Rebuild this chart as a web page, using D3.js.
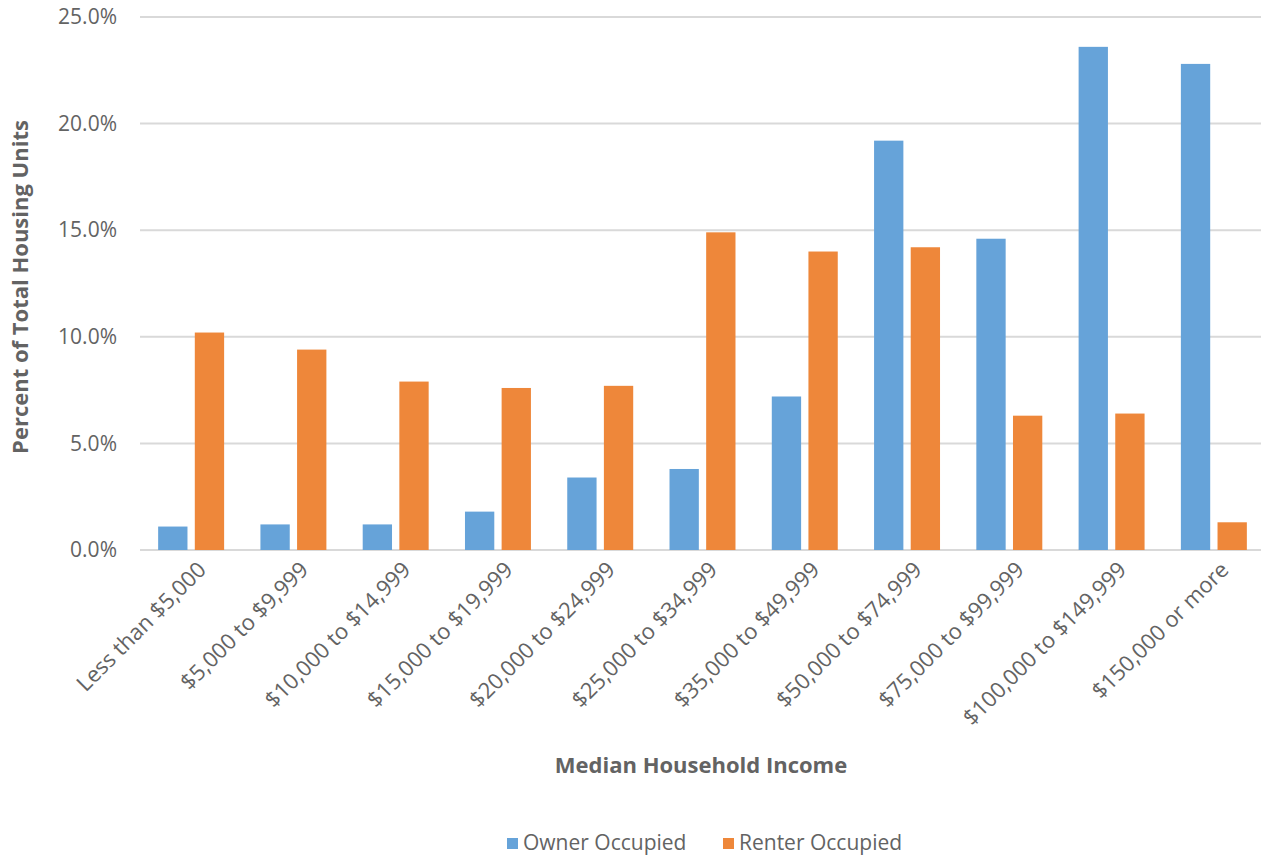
<!DOCTYPE html>
<html>
<head>
<meta charset="utf-8">
<script src="https://cdnjs.cloudflare.com/ajax/libs/d3/7.8.5/d3.min.js"></script>
<style>
  body { margin: 0; background: #fff; }
  svg { display: block; font-family: "Open Sans", sans-serif; }
</style>
</head>
<body>
<svg id="canvas" width="1261" height="856"></svg>
<script>
var categories = ["Less than $5,000", "$5,000 to $9,999", "$10,000 to $14,999", "$15,000 to $19,999",
	"$20,000 to $24,999", "$25,000 to $34,999", "$35,000 to $49,999", "$50,000 to $74,999",
	"$75,000 to $99,999", "$100,000 to $149,999", "$150,000 or more"];
var ownerValues = [1.1, 1.2, 1.2, 1.8, 3.4, 3.8, 7.2, 19.2, 14.6, 23.6, 22.8];
var renterValues = [10.2, 9.4, 7.9, 7.6, 7.7, 14.9, 14.0, 14.2, 6.3, 6.4, 1.3];
var seriesNames = ["Owner Occupied", "Renter Occupied"];
var yTicks = [0, 5, 10, 15, 20, 25];

var colors = ["#66a3d9", "#ee873a"];
var textColor = "#636363";

var svg = d3.select("#canvas");
var plotLeft = 140, plotRight = 1265, plotTop = 17, plotBottom = 550;

var x0 = d3.scaleBand()
	.domain(categories)
	.range([plotLeft, plotRight])
	.paddingInner(0.355)
	.paddingOuter(0.1775);

var x1 = d3.scaleBand()
	.domain(seriesNames)
	.range([0, x0.bandwidth()])
	.paddingInner(0.2);

var y = d3.scaleLinear()
	.domain([0, 25])
	.range([plotBottom, plotTop]);

// gridlines
svg.append("g")
	.selectAll("line")
	.data(yTicks)
	.enter().append("line")
	.attr("x1", plotLeft)
	.attr("x2", 1261)
	.attr("y1", function(d) { return y(d); })
	.attr("y2", function(d) { return y(d); })
	.attr("stroke", "#d9d9d9")
	.attr("stroke-width", 2);

// y axis labels
var yAxis = d3.axisLeft(y)
	.tickValues(yTicks)
	.tickSize(0)
	.tickPadding(0)
	.tickFormat(function(d) { return d.toFixed(1) + "%"; });

svg.append("g")
	.attr("transform", "translate(117,0)")
	.call(yAxis)
	.call(function(g) { g.select(".domain").remove(); })
	.selectAll("text")
	.attr("fill", textColor)
	.style("font-size", "21px")
	.style("font-family", "Open Sans");

// bars
var rows = categories.map(function(c, i) {
	return { cat: c, vals: [ownerValues[i], renterValues[i]] };
});

var groups = svg.append("g")
	.selectAll("g")
	.data(rows)
	.enter().append("g")
	.attr("transform", function(d) { return "translate(" + x0(d.cat) + ",0)"; });

groups.selectAll("rect")
	.data(function(d) {
		return d.vals.map(function(v, j) { return { name: seriesNames[j], value: v, j: j }; });
	})
	.enter().append("rect")
	.attr("x", function(d) { return x1(d.name); })
	.attr("width", x1.bandwidth())
	.attr("y", function(d) { return y(d.value); })
	.attr("height", function(d) { return plotBottom - y(d.value); })
	.attr("fill", function(d) { return colors[d.j]; });

// x axis labels
var xAxis = d3.axisBottom(x0).tickSize(0).tickPadding(0);

svg.append("g")
	.attr("transform", "translate(0," + plotBottom + ")")
	.call(xAxis)
	.call(function(g) { g.select(".domain").remove(); })
	.selectAll("text")
	.attr("fill", textColor)
	.style("font-size", "22px")
	.style("font-family", "Open Sans")
	.attr("text-anchor", "end")
	.attr("dy", null)
	.attr("y", 0)
	.attr("transform", "translate(12,17) rotate(-45)")
	.attr("dominant-baseline", "middle");

// axis titles
svg.append("text")
	.attr("transform", "translate(28,287) rotate(-90)")
	.attr("text-anchor", "middle")
	.attr("fill", textColor)
	.style("font-size", "22px")
	.style("font-weight", "bold")
	.text("Percent of Total Housing Units");

svg.append("text")
	.attr("x", 701)
	.attr("y", 773)
	.attr("text-anchor", "middle")
	.attr("fill", textColor)
	.style("font-size", "22px")
	.style("font-weight", "bold")
	.text("Median Household Income");

// legend
var legendX = [507, 723];
var legend = svg.append("g")
	.selectAll("g")
	.data(seriesNames)
	.enter().append("g")
	.attr("transform", function(d, i) { return "translate(" + legendX[i] + ",838)"; });

legend.append("rect")
	.attr("width", 11)
	.attr("height", 11)
	.attr("fill", function(d, i) { return colors[i]; });

legend.append("text")
	.attr("x", 16)
	.attr("y", 6)
	.attr("dominant-baseline", "middle")
	.attr("fill", textColor)
	.style("font-size", "21px")
	.text(function(d) { return d; });
</script>
</body>
</html>
